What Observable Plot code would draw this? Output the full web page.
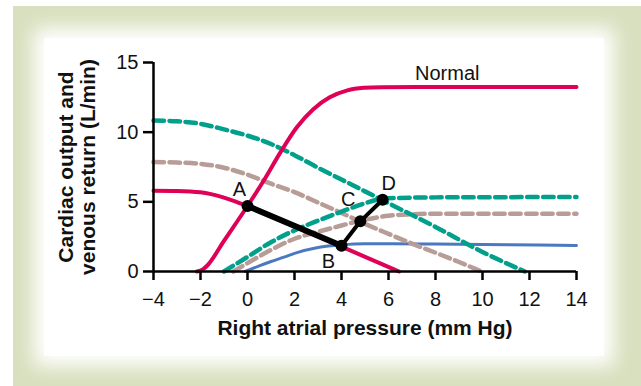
<!DOCTYPE html>
<html>
<head>
<meta charset="utf-8">
<script src="https://cdn.jsdelivr.net/npm/d3@7"></script>
<script src="https://cdn.jsdelivr.net/npm/@observablehq/plot@0.6"></script>
<style>
  html, body { margin: 0; padding: 0; background: #fff; }
  #wrap { position: relative; width: 641px; height: 386px; overflow: hidden; background: #fff; }
  #outer { position: absolute; left: 13px; top: 6px; right: 0; bottom: 0; background: #d9e0bf; }
  #inner { position: absolute; left: 44px; top: 38px; width: 560px; height: 318px; background: #fff; box-shadow: 0 0 18px 10px #fff; }
  #chart { position: absolute; left: 0; top: 0; }
</style>
</head>
<body>
<div id="wrap"><div id="outer"></div><div id="inner"></div><div id="chart"></div></div>
<script>
// Normal cardiac output curve (red)
const normalCOx = [-2.15, -1.9, -1.7, -1, 0, 0.7, 1.4, 2.1, 2.8, 3.5, 4.25, 4.95, 5.7, 8, 10, 14];
const normalCOy = [0, 0.15, 0.45, 2.2, 4.7, 6.55, 8.55, 10.35, 11.65, 12.5, 13.0, 13.18, 13.23, 13.25, 13.25, 13.25];
// Normal venous return curve (red)
const normalVRx = [-4, -3, -2, -1, -0.5, 0, 4, 6.45];
const normalVRy = [5.8, 5.78, 5.68, 5.3, 5.02, 4.7, 1.78, 0];
// High venous return (teal dashed)
const tealVRx = [-4, -3, -2, -1, 0, 1, 2, 3, 4, 5, 6, 8, 10, 11.8];
const tealVRy = [10.84, 10.78, 10.6, 10.2, 9.75, 9.15, 8.35, 7.45, 6.6, 5.75, 4.9, 3.2, 1.4, 0];
// Cardiac output (teal dashed)
const tealCOx = [-1, 0, 1, 2, 3, 4, 5, 5.5, 6, 7, 8, 10, 14];
const tealCOy = [0, 1.05, 2.1, 2.95, 3.65, 4.3, 4.9, 5.15, 5.25, 5.3, 5.32, 5.33, 5.35];
// Venous return (brown dashed)
const brownVRx = [-4, -3, -2, -1, 0, 1, 2, 3, 4, 5, 6, 7, 8, 9, 9.95];
const brownVRy = [7.85, 7.82, 7.73, 7.45, 6.95, 6.3, 5.7, 4.95, 4.2, 3.42, 2.7, 2.0, 1.35, 0.68, 0];
// Cardiac output (brown dashed)
const brownCOx = [-0.6, 0, 1, 2, 3, 4, 5, 6, 7, 8, 10, 14];
const brownCOy = [0, 0.6, 1.55, 2.35, 2.85, 3.3, 3.72, 4.0, 4.1, 4.15, 4.15, 4.15];
// Depressed cardiac output (blue)
const blueCOx = [-0.1, 0.5, 1, 1.55, 2, 3, 4, 5, 6, 8, 10, 14];
const blueCOy = [0, 0.4, 0.72, 1.03, 1.3, 1.72, 1.92, 2.0, 2.0, 1.97, 1.94, 1.87];
// Equilibrium points
const pointLabels = ["A", "B", "C", "D"];
const pointX = [0, 4, 4.8, 5.75];
const pointY = [4.7, 1.85, 3.6, 5.15];
// Ticks
const xTicks = [-4, -2, 0, 2, 4, 6, 8, 10, 12, 14];
const yTicks = [0, 5, 10, 15];

const toRows = (xs, ys) => xs.map((x, i) => ({x, y: ys[i]}));
const pts = pointLabels.map((l, i) => ({label: l, x: pointX[i], y: pointY[i]}));
const labelOffsets = {A: [-8, -10], B: [-13, 22], C: [-12, -15], D: [6, -10]};

const red = "#df0057", teal = "#00a08b", brown = "#b89c97", blue = "#4a79c1";
const dash = "10.5,5.5";

const plot = Plot.plot({
  width: 641,
  height: 386,
  marginLeft: 153,
  marginRight: 65,
  marginTop: 62,
  marginBottom: 115,
  style: {background: "transparent", fontFamily: "Liberation Sans, Arial, sans-serif", fontSize: "20px", color: "#111"},
  x: {domain: [-4, 14], ticks: xTicks},
  y: {domain: [0, 15], ticks: yTicks},
  marks: [
    Plot.line(toRows(blueCOx, blueCOy), {x: "x", y: "y", stroke: blue, strokeWidth: 3, curve: "monotone-x"}),
    Plot.line(toRows(brownCOx, brownCOy), {x: "x", y: "y", stroke: brown, strokeWidth: 4.5, strokeDasharray: dash, curve: "monotone-x"}),
    Plot.line(toRows(brownVRx, brownVRy), {x: "x", y: "y", stroke: brown, strokeWidth: 4.5, strokeDasharray: dash, curve: "monotone-x"}),
    Plot.line(toRows(tealCOx, tealCOy), {x: "x", y: "y", stroke: teal, strokeWidth: 4.5, strokeDasharray: dash, curve: "monotone-x"}),
    Plot.line(toRows(tealVRx, tealVRy), {x: "x", y: "y", stroke: teal, strokeWidth: 4.5, strokeDasharray: dash, curve: "monotone-x"}),
    Plot.line(toRows(normalVRx, normalVRy), {x: "x", y: "y", stroke: red, strokeWidth: 4, curve: "monotone-x"}),
    Plot.line(toRows(normalCOx, normalCOy), {x: "x", y: "y", stroke: red, strokeWidth: 4, curve: "monotone-x"}),
    Plot.line(pts.slice(0, 2), {x: "x", y: "y", stroke: "#000", strokeWidth: 6}),
    Plot.line(pts.slice(1), {x: "x", y: "y", stroke: "#000", strokeWidth: 4}),
    Plot.dot(pts, {x: "x", y: "y", r: 6, fill: "#000"}),
    ...pts.map(p => Plot.text([p], {x: "x", y: "y", text: "label", dx: labelOffsets[p.label][0], dy: labelOffsets[p.label][1], lineAnchor: "bottom", fontSize: 20, fill: "#111"})),
    Plot.text(["Normal"], {x: 8.5, y: 13.25, text: d => d, lineAnchor: "bottom", dy: -7, fontSize: 20, fill: "#111"}),
    Plot.ruleY([0], {x1: -4, x2: 14, stroke: "#000", strokeWidth: 2.5}),
    Plot.ruleX([-4], {y1: 0, y2: 15, stroke: "#000", strokeWidth: 2.5}),
    Plot.axisX({ticks: xTicks, tickSize: 9, tickPadding: 11, strokeWidth: 2.5, label: null, fontSize: 20, stroke: "#000", fill: "#111"}),
    Plot.axisY({ticks: yTicks, tickSize: 10, tickPadding: 5, strokeWidth: 2.5, label: null, fontSize: 20, stroke: "#000", fill: "#111"}),
    Plot.text(["Right atrial pressure (mm Hg)"], {frameAnchor: "bottom", text: d => d, textAnchor: "middle", lineAnchor: "bottom", dy: 63, fontSize: 21, fontWeight: "bold", fill: "#111"}),
    Plot.text(["Cardiac output and"], {frameAnchor: "left", text: d => d, rotate: -90, textAnchor: "middle", lineAnchor: "middle", dx: -87, fontSize: 21, fontWeight: "bold", fill: "#111"}),
    Plot.text(["venous return (L/min)"], {frameAnchor: "left", text: d => d, rotate: -90, textAnchor: "middle", lineAnchor: "middle", dx: -65, fontSize: 21, fontWeight: "bold", fill: "#111"})
  ]
});
document.getElementById("chart").appendChild(plot);
</script>
</body>
</html>
